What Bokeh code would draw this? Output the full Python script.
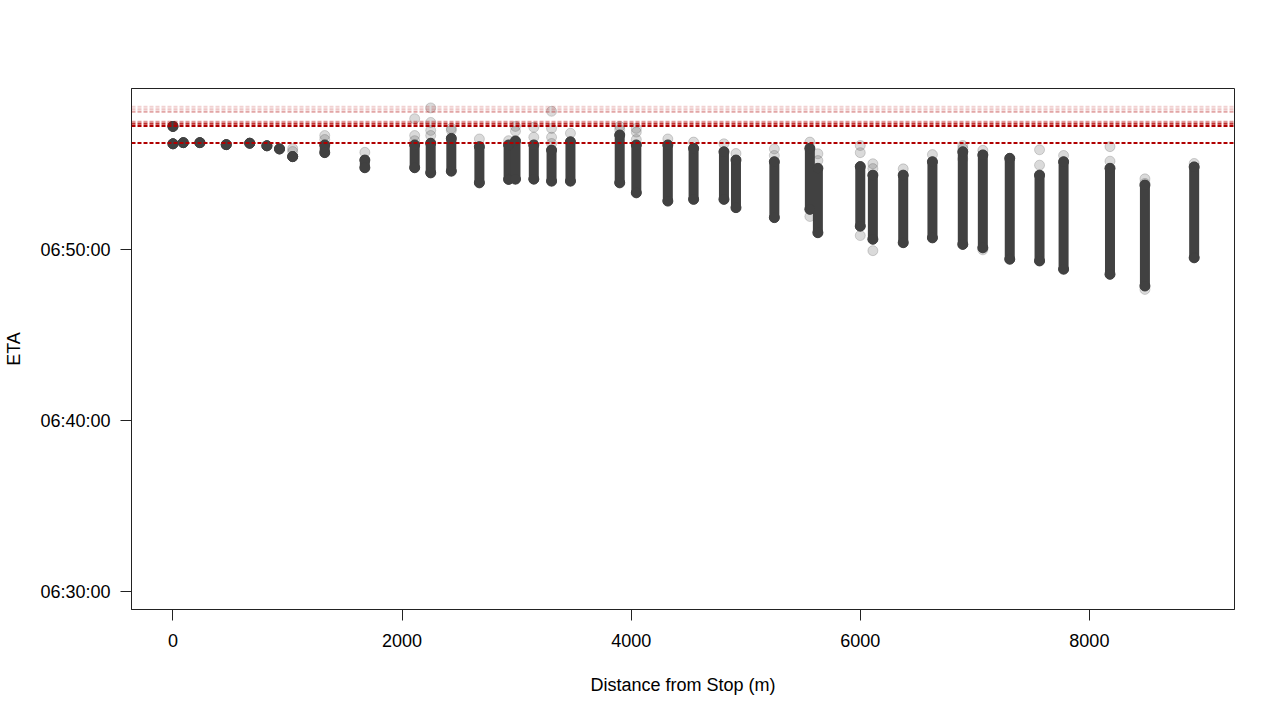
from bokeh.plotting import figure
from bokeh.models import Range1d, FixedTicker, Span, ColumnDataSource
from bokeh.embed import file_html
from bokeh.resources import INLINE

# ---- data ----
# dense cores of each distance column: distance (m), ETA at top and bottom of the core
core_dist = [0, 0, 90, 235, 465, 670, 820, 930, 1045, 1325, 1675, 2110, 2250, 2430, 2675,
             2930, 2990, 3150, 3305, 3470, 3900, 4045, 4320, 4545, 4810, 4915, 5250, 5560,
             5630, 6000, 6110, 6375, 6630, 6895, 7070, 7305, 7565, 7775, 8180, 8485, 8915]
core_top = ["06:57:12", "06:56:11", "06:56:15", "06:56:15", "06:56:08", "06:56:13", "06:56:04",
            "06:55:53", "06:55:26", "06:56:07", "06:55:14", "06:56:07", "06:56:13", "06:56:30",
            "06:56:01", "06:56:07", "06:56:21", "06:56:07", "06:55:49", "06:56:18", "06:56:42",
            "06:56:07", "06:56:07", "06:55:55", "06:55:43", "06:55:14", "06:55:08", "06:55:55",
            "06:54:45", "06:54:51", "06:54:21", "06:54:21", "06:55:08", "06:55:43", "06:55:32",
            "06:55:20", "06:54:21", "06:55:08", "06:54:45", "06:53:46", "06:54:50"]
core_bottom = ["06:57:12", "06:56:11", "06:56:15", "06:56:15", "06:56:08", "06:56:13", "06:56:04",
               "06:55:53", "06:55:26", "06:55:40", "06:54:47", "06:54:47", "06:54:29", "06:54:35",
               "06:53:54", "06:54:06", "06:54:07", "06:54:07", "06:54:00", "06:54:00", "06:53:54",
               "06:53:19", "06:52:50", "06:52:56", "06:52:56", "06:52:27", "06:51:52", "06:52:21",
               "06:50:59", "06:51:22", "06:50:36", "06:50:24", "06:50:41", "06:50:18", "06:50:06",
               "06:49:26", "06:49:20", "06:48:51", "06:48:33", "06:47:52", "06:49:31"]

# isolated (faint) observations
faint_dist = [1045, 1045, 1325, 1325, 1675, 2110, 2110, 2110, 2250, 2250, 2250, 2250, 2430,
              2430, 2675, 2930, 2990, 2990, 3150, 3150, 3305, 3305, 3305, 3305, 3470, 3900,
              3900, 4045, 4045, 4045, 4320, 4545, 4810, 4915, 5250, 5250, 5560, 5560, 5630,
              5630, 6000, 6000, 6000, 6110, 6110, 6110, 6375, 6630, 6895, 6895, 6895, 7070,
              7070, 7565, 7565, 7775, 8180, 8180, 8485, 8485, 8485, 8915]
faint_eta = ["06:55:54", "06:55:44", "06:56:40", "06:56:26", "06:55:41", "06:57:39", "06:56:40",
             "06:56:22", "06:58:17", "06:57:26", "06:56:58", "06:56:40", "06:57:05", "06:56:58",
             "06:56:28", "06:56:22", "06:56:55", "06:57:12", "06:57:09", "06:56:34", "06:58:05",
             "06:57:05", "06:56:34", "06:56:12", "06:56:48", "06:57:00", "06:57:12", "06:56:52",
             "06:57:05", "06:56:26", "06:56:28", "06:56:17", "06:56:11", "06:55:37", "06:55:53",
             "06:55:30", "06:56:17", "06:51:56", "06:55:36", "06:55:12", "06:56:05", "06:55:40",
             "06:50:49", "06:55:01", "06:54:44", "06:49:56", "06:54:43", "06:55:33", "06:55:54",
             "06:55:18", "06:56:05", "06:55:48", "06:49:59", "06:55:50", "06:54:56", "06:55:30",
             "06:56:01", "06:55:10", "06:54:08", "06:53:52", "06:47:40", "06:55:02"]

# horizontal reference lines (ETA) and their opacity
hline_eta = ["06:58:21", "06:58:12", "06:58:03", "06:57:28", "06:57:21", "06:57:13", "06:56:14"]
hline_alpha = [0.18, 0.22, 0.35, 0.4, 0.8, 1.0, 1.0]

x_ticks = [0, 2000, 4000, 6000, 8000]
y_tick_labels = ["06:30:00", "06:40:00", "06:50:00"]


def to_sec(s):
    h, m, sec = (int(v) for v in s.split(":"))
    return h * 3600 + m * 60 + sec


FONT = "Liberation Sans"
FS = "18px"
PT = 10

p = figure(width=1280, height=720, output_backend="svg", toolbar_location=None,
           x_range=Range1d(-362, 9267),
           y_range=Range1d(to_sec("06:28:57"), to_sec("06:59:25")),
           min_border_left=131, min_border_right=46, min_border_top=88, min_border_bottom=111)
p.background_fill_color = "white"
p.border_fill_color = "white"
p.outline_line_color = "#222222"
p.outline_line_width = 1
p.xgrid.visible = False
p.ygrid.visible = False

core = ColumnDataSource(dict(x=core_dist,
                             y0=[to_sec(v) for v in core_top],
                             y1=[to_sec(v) for v in core_bottom]))
faint = ColumnDataSource(dict(x=faint_dist, y=[to_sec(v) for v in faint_eta]))

p.scatter("x", "y", source=faint, size=PT, marker="circle",
          fill_color="#444444", fill_alpha=0.2, line_color="#444444", line_alpha=0.22)
p.segment(x0="x", y0="y0", x1="x", y1="y1", source=core, line_width=PT,
          line_color="#414141", line_cap="round")
p.scatter("x", "y0", source=core, size=PT, marker="circle",
          fill_color="#414141", line_color="#414141")
p.scatter("x", "y1", source=core, size=PT, marker="circle",
          fill_color="#414141", line_color="#414141")

for eta, a in zip(hline_eta, hline_alpha):
    p.add_layout(Span(location=to_sec(eta), dimension="width", line_color="#b00000",
                      line_alpha=a, line_width=2, line_dash="4 2"))

# axes
p.xaxis.ticker = FixedTicker(ticks=x_ticks)
p.yaxis.ticker = FixedTicker(ticks=[to_sec(v) for v in y_tick_labels])
p.yaxis.major_label_overrides = {to_sec(v): v for v in y_tick_labels}
for ax in (p.xaxis[0], p.yaxis[0]):
    ax.minor_tick_line_color = None
    ax.major_tick_in = 0
    ax.major_tick_out = 11
    ax.major_tick_line_color = "#222222"
    ax.axis_line_color = "#222222"
    ax.major_label_text_font = FONT
    ax.major_label_text_font_size = FS
    ax.major_label_text_color = "black"
    ax.axis_label_text_font = FONT
    ax.axis_label_text_font_size = FS
    ax.axis_label_text_font_style = "normal"
    ax.axis_label_text_color = "black"
p.xaxis.axis_label = "Distance from Stop (m)"
p.yaxis.axis_label = "ETA"
p.xaxis.major_label_standoff = 13
p.xaxis.axis_label_standoff = 25
p.yaxis.major_label_standoff = 10
p.yaxis.axis_label_standoff = 13

open("out.html", "w").write(file_html(p, INLINE))
